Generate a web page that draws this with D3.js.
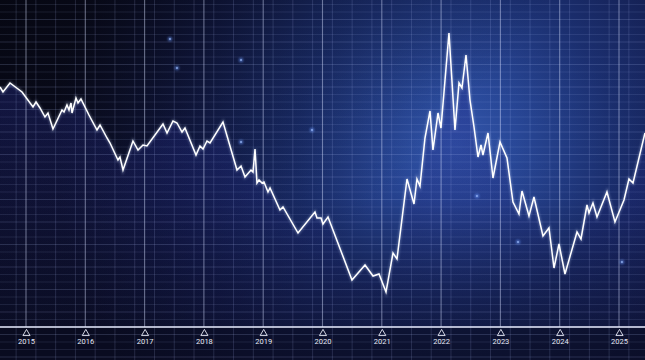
<!DOCTYPE html>
<html><head><meta charset="utf-8">
<script src="https://cdn.jsdelivr.net/npm/d3@7"></script>
<style>html,body{margin:0;padding:0;background:#0b0c1c;overflow:hidden}</style>
</head><body><svg id="c" width="645" height="360"></svg>
<script>
// ---- data ----
const years = [2015,2016,2017,2018,2019,2020,2021,2022,2023,2024,2025];
const yearLabels = ["2015","2016","2017","2018","2019","2020","2021","2022","2023","2024","2025"];
const t = [2014.562,2014.612,2014.730,2014.933,2015.118,2015.169,2015.236,2015.320,2015.371,2015.455,
2015.607,2015.641,2015.691,2015.725,2015.759,2015.776,2015.843,2015.877,2015.927,2016.062,
2016.197,2016.248,2016.366,2016.417,2016.551,2016.585,2016.636,2016.804,2016.889,2016.973,
2017.040,2017.310,2017.378,2017.479,2017.546,2017.631,2017.681,2017.867,2017.934,2017.985,
2018.052,2018.103,2018.322,2018.558,2018.626,2018.693,2018.794,2018.828,2018.862,2018.895,
2018.929,2018.980,2019.013,2019.081,2019.115,2019.283,2019.334,2019.587,2019.873,2019.907,
2019.975,2020.008,2020.093,2020.497,2020.717,2020.852,2020.953,2021.071,2021.189,2021.256,
2021.425,2021.543,2021.593,2021.644,2021.728,2021.813,2021.863,2021.948,2021.998,2022.133,
2022.234,2022.302,2022.352,2022.420,2022.487,2022.555,2022.622,2022.673,2022.706,2022.791,
2022.875,2022.993,2023.111,2023.212,2023.313,2023.364,2023.482,2023.566,2023.718,2023.819,
2023.904,2023.988,2024.089,2024.292,2024.359,2024.460,2024.494,2024.561,2024.629,2024.797,
2024.932,2025.084,2025.168,2025.236,2025.438];
const v = [960,940,976,940,880,900,876,840,856,792,
868,860,888,868,896,856,916,896,912,848,
788,808,756,736,668,680,628,744,708,728,
724,812,776,824,816,780,796,688,724,712,
744,736,820,628,644,600,628,620,712,576,
588,576,580,540,556,468,480,376,460,436,
436,412,440,188,248,204,212,140,296,272,
592,492,592,564,756,864,708,856,796,1176,
788,976,956,1088,908,800,680,728,688,776,
596,740,676,500,452,544,444,520,364,396,
236,332,212,380,352,488,456,496,440,540,
420,508,592,576,776];
const sparkT = [2017.428,2017.546,2018.626,2018.626,2019.823,2022.605,2023.297,2025.050];
const sparkV = [1152,1036,1068,740,788,524,340,260];

// ---- chart ----
const W = 645, H = 360, axisY = 327;
const svg = d3.select("#c");
const x = d3.scaleLinear().domain([2015, 2025]).range([26, 619]);
const y = d3.scaleLinear().domain([0, 1308]).range([axisY, 0]);
const data = t.map((d, i) => ({t: d, v: v[i]}));

const defs = svg.append("defs");
const bg = defs.append("radialGradient").attr("id", "bg")
  .attr("gradientUnits", "userSpaceOnUse").attr("cx", 455).attr("cy", 145).attr("r", 400);
[[0, "#3459b0"], [0.15, "#2a4a9c"], [0.4, "#1b2f70"], [0.7, "#121a48"], [1, "#0b0d22"]]
  .forEach(s => bg.append("stop").attr("offset", s[0]).attr("stop-color", s[1]));
const shade = defs.append("linearGradient").attr("id", "shade").attr("x1", 0).attr("y1", 0).attr("x2", 1).attr("y2", 0.5);
[[0, "#05060f", 0.8], [0.4, "#05060f", 0.25], [0.7, "#05060f", 0]]
  .forEach(s => shade.append("stop").attr("offset", s[0]).attr("stop-color", s[1]).attr("stop-opacity", s[2]));
const vshade = defs.append("linearGradient").attr("id", "vshade").attr("x1", 0).attr("y1", 0).attr("x2", 0).attr("y2", 1);
[[0, "#080a1e", 0], [0.55, "#080a1e", 0.05], [1, "#080a1e", 0.55]]
  .forEach(s => vshade.append("stop").attr("offset", s[0]).attr("stop-color", s[1]).attr("stop-opacity", s[2]));
const af = defs.append("linearGradient").attr("id", "af").attr("x1", 0).attr("y1", 0).attr("x2", 0).attr("y2", 1);
[[0, "#2a33a0", 0.4], [1, "#1a2060", 0.2]]
  .forEach(s => af.append("stop").attr("offset", s[0]).attr("stop-color", s[1]).attr("stop-opacity", s[2]));
const glow = defs.append("filter").attr("id", "glow").attr("x", "-50%").attr("y", "-50%").attr("width", "200%").attr("height", "200%");
glow.append("feGaussianBlur").attr("stdDeviation", 1.2);

svg.append("rect").attr("width", W).attr("height", H).attr("fill", "url(#bg)");
svg.append("rect").attr("width", W).attr("height", H).attr("fill", "url(#shade)");

// area under line
const area = d3.area().x(d => x(d.t)).y0(axisY).y1(d => y(d.v));
svg.append("path").datum(data).attr("d", area).attr("fill", "url(#af)");
svg.append("rect").attr("width", W).attr("height", H).attr("fill", "url(#vshade)");

// bottom strip
svg.append("rect").attr("x", 0).attr("y", axisY).attr("width", W).attr("height", H - axisY)
  .attr("fill", "#0a0c22").attr("opacity", 0.5);

// grid
const hVals = d3.range(-120, 1320, 30);
svg.append("g").selectAll("line").data(hVals).join("line")
  .attr("x1", 0).attr("x2", W).attr("y1", d => y(d)).attr("y2", d => y(d))
  .attr("stroke", "#b8c8ff").attr("stroke-opacity", (d, i) => i % 3 === 0 ? 0.22 : 0.14).attr("stroke-width", 0.8);
const minor = [];
d3.range(2014, 2026).forEach(yr => [1/6, 1/2, 5/6].forEach(o => minor.push(yr + o)));
svg.append("g").selectAll("line").data(minor).join("line")
  .attr("x1", d => x(d)).attr("x2", d => x(d)).attr("y1", 0).attr("y2", H)
  .attr("stroke", "#b8c8ff").attr("stroke-opacity", 0.2).attr("stroke-width", 0.8);
svg.append("g").selectAll("line").data(years).join("line")
  .attr("x1", d => x(d)).attr("x2", d => x(d)).attr("y1", 0).attr("y2", axisY)
  .attr("stroke", "#d8e0ff").attr("stroke-opacity", 0.45).attr("stroke-width", 1.1);

// sparkles
const sp = sparkT.map((d, i) => ({t: d, v: sparkV[i]}));
svg.append("g").selectAll("circle").data(sp).join("circle")
  .attr("cx", d => x(d.t)).attr("cy", d => y(d.v)).attr("r", 2.2)
  .attr("fill", "#6f9cff").attr("opacity", 0.6).attr("filter", "url(#glow)");
svg.append("g").selectAll("circle").data(sp).join("circle")
  .attr("cx", d => x(d.t)).attr("cy", d => y(d.v)).attr("r", 0.9)
  .attr("fill", "#a8c4ff").attr("opacity", 0.8);

// line
const line = d3.line().x(d => x(d.t)).y(d => y(d.v));
svg.append("path").datum(data).attr("d", line).attr("fill", "none")
  .attr("stroke", "#cfe0ff").attr("stroke-width", 3).attr("stroke-opacity", 0.3).attr("filter", "url(#glow)");
svg.append("path").datum(data).attr("d", line).attr("fill", "none")
  .attr("stroke", "#ffffff").attr("stroke-width", 1.5).attr("stroke-linejoin", "miter");

// axis
svg.append("line").attr("x1", 0).attr("x2", W).attr("y1", axisY).attr("y2", axisY)
  .attr("stroke", "#e8ecff").attr("stroke-width", 1.3);
const ax = svg.append("g").attr("transform", `translate(0,${axisY})`)
  .call(d3.axisBottom(x).tickValues(years).tickFormat((d, i) => yearLabels[i]).tickSize(0).tickPadding(12));
ax.select(".domain").remove();
ax.selectAll("text").attr("fill", "#e6e9f5").attr("font-family", "Roboto, sans-serif").attr("font-size", 7.5);
ax.selectAll(".tick").append("path")
  .attr("d", d3.symbol(d3.symbolTriangle, 22)())
  .attr("transform", "translate(0,6.5)")
  .attr("fill", "none").attr("stroke", "#e6e9f5").attr("stroke-width", 0.9);
</script></body></html>
